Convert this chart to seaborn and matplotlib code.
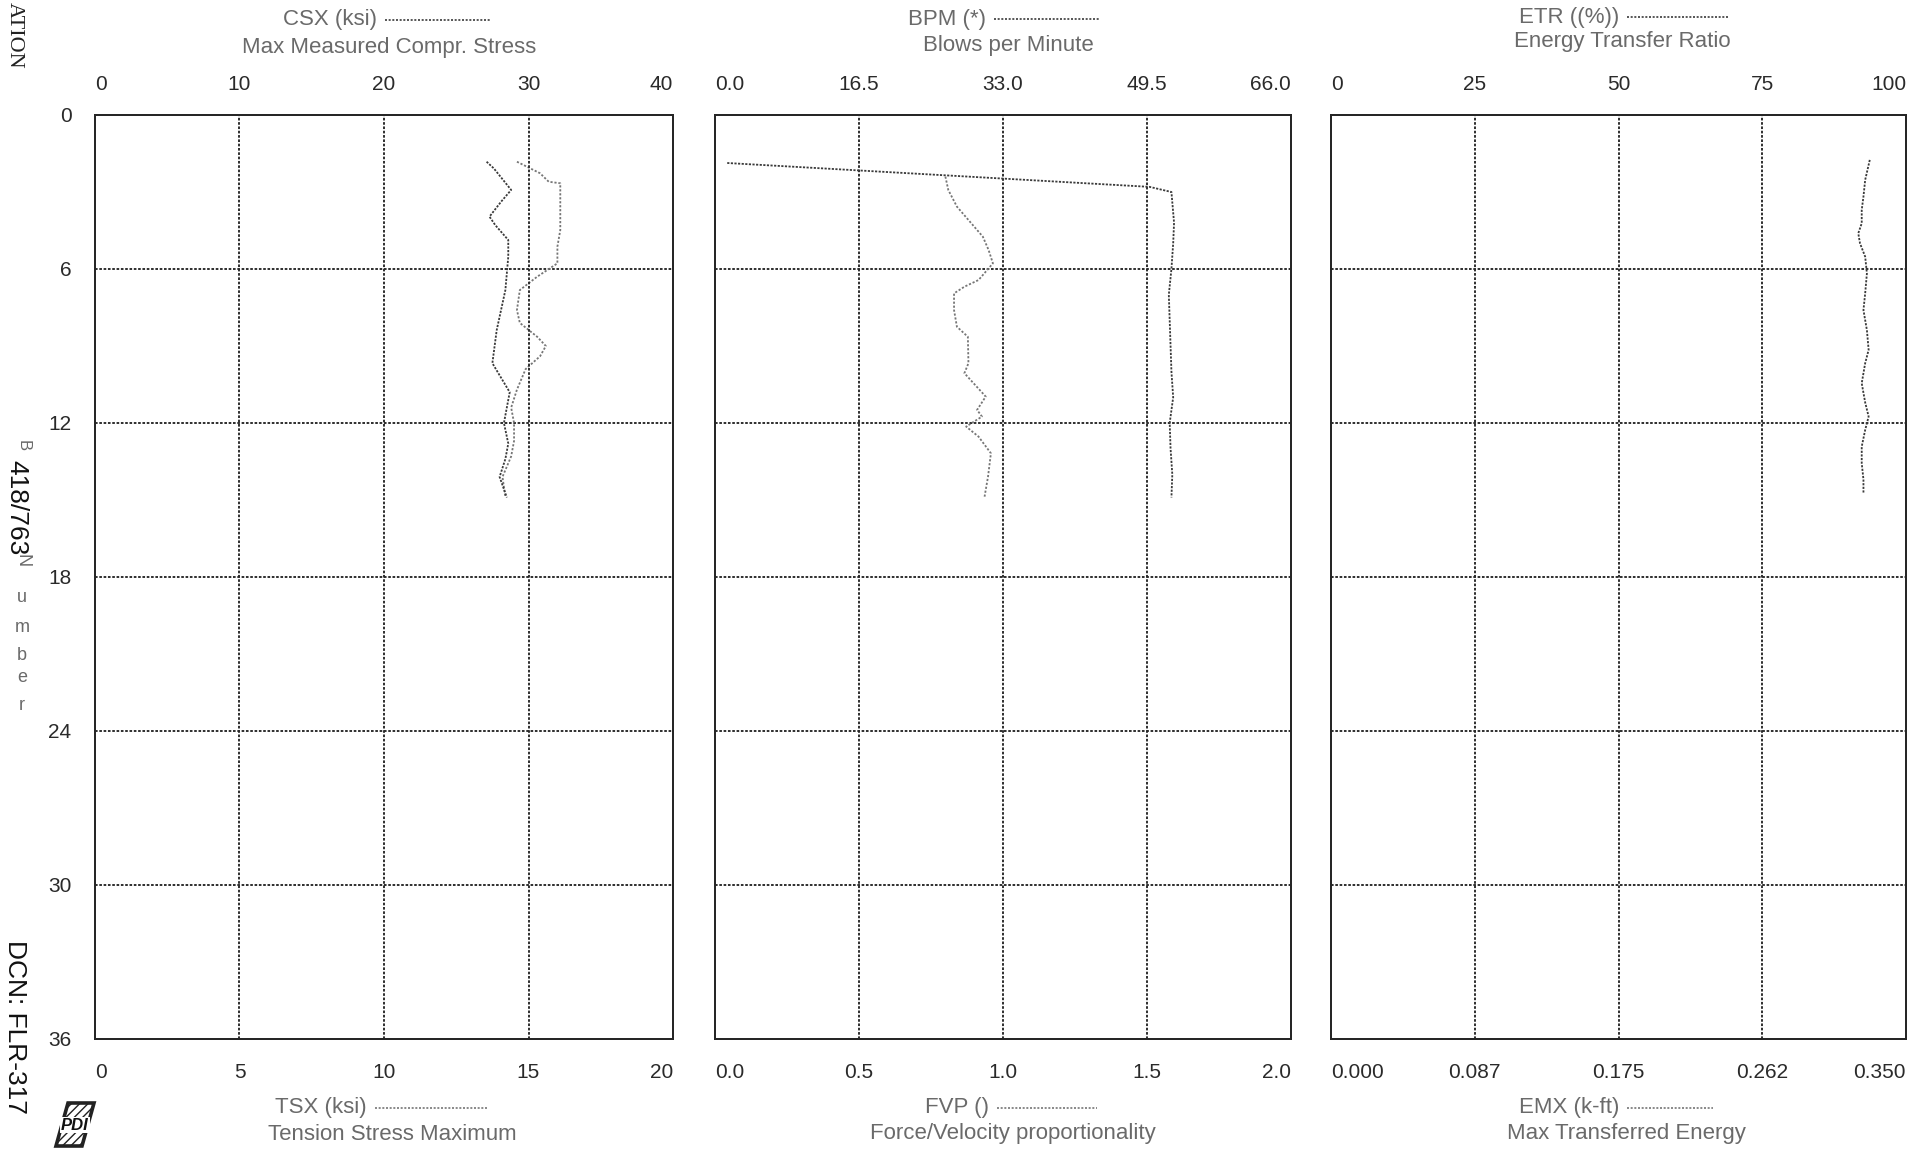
import matplotlib
matplotlib.use("Agg")
import matplotlib.pyplot as plt
import seaborn as sns
from matplotlib.lines import Line2D
from matplotlib.patches import Polygon

sns.set_theme(style="white")
plt.rcParams["font.family"] = ["Liberation Sans", "DejaVu Sans"]

W, H = 1932, 1155

# ---- depth axis (ft) ----
depth_ticks = [0, 6, 12, 18, 24, 30, 36]

# ---- CSX / TSX (ksi) ----
csx_depth = [1.82, 2.08, 2.92, 3.38, 3.96, 4.29, 4.87, 5.52, 6.17, 6.82, 7.6,
             8.38, 9.67, 10.8, 12.0, 12.8, 13.4, 14.1, 14.9]
csx = [27.1, 27.6, 28.8, 28.1, 27.3, 27.7, 28.6, 28.6, 28.5, 28.4, 28.1,
       27.8, 27.5, 28.7, 28.3, 28.6, 28.4, 28.0, 28.5]
tsx_depth = [1.82, 2.27, 2.6, 2.66, 3.18, 3.83, 4.48, 5.13, 5.78, 6.3, 6.82,
             7.6, 8.1, 8.64, 9.0, 9.4, 9.9, 10.7, 11.4, 12.0, 12.7, 13.3,
             14.1, 14.9]
tsx = [14.6, 15.4, 15.7, 16.1, 16.1, 16.1, 16.1, 16.0, 16.0, 15.3, 14.7,
       14.6, 14.7, 15.3, 15.6, 15.4, 14.9, 14.6, 14.4, 14.5, 14.5, 14.4,
       14.1, 14.2]

# ---- BPM / FVP ----
bpm_depth = [1.87, 2.8, 3.0, 4.2, 5.0, 6.0, 7.0, 8.0, 9.0, 10.0, 11.0, 12.0,
             13.0, 14.0, 14.9]
bpm = [1.4, 49.8, 52.3, 52.6, 52.5, 52.3, 52.0, 52.1, 52.2, 52.3, 52.5, 52.1,
       52.2, 52.4, 52.3]
fvp_depth = [2.40, 2.92, 3.57, 4.09, 4.74, 5.26, 5.78, 6.43, 6.69, 6.95, 7.6,
             8.25, 8.64, 9.67, 10.06, 10.97, 11.49, 11.75, 12.14, 12.53,
             13.18, 14.09, 14.87]
fvp = [0.80, 0.81, 0.84, 0.88, 0.93, 0.95, 0.965, 0.915, 0.866, 0.83, 0.83,
       0.84, 0.878, 0.88, 0.866, 0.94, 0.91, 0.927, 0.872, 0.915, 0.958,
       0.948, 0.936]

# ---- ETR (%) / EMX (k-ft) ----
etr_depth = [1.75, 2.53, 3.18, 3.7, 4.22, 4.61, 5.0, 5.52, 6.17, 6.95, 7.6,
             8.38, 9.15, 9.67, 10.45, 11.2, 11.75, 12.27, 12.92, 13.57, 14.2,
             14.74]
etr = [93.7, 92.9, 92.6, 92.3, 92.3, 91.7, 92.0, 92.9, 93.2, 92.9, 92.6,
       93.2, 93.5, 92.9, 92.3, 92.9, 93.5, 92.9, 92.3, 92.3, 92.6, 92.6]

# ---- axis scales and labels ----
top_names = ["CSX (ksi)", "BPM (*)", "ETR ((%))"]
top_descs = ["Max Measured Compr. Stress", "Blows per Minute", "Energy Transfer Ratio"]
top_ticks = [[0, 10, 20, 30, 40], [0, 16.5, 33, 49.5, 66], [0, 25, 50, 75, 100]]
top_ticklabels = [["0", "10", "20", "30", "40"],
                  ["0.0", "16.5", "33.0", "49.5", "66.0"],
                  ["0", "25", "50", "75", "100"]]
bottom_names = ["TSX (ksi)", "FVP ()", "EMX (k-ft)"]
bottom_descs = ["Tension Stress Maximum", "Force/Velocity proportionality",
                "Max Transferred Energy"]
bottom_ticks = [[0, 5, 10, 15, 20], [0, 0.5, 1.0, 1.5, 2.0],
                [0, 0.0875, 0.175, 0.2625, 0.35]]
bottom_ticklabels = [["0", "5", "10", "15", "20"],
                     ["0.0", "0.5", "1.0", "1.5", "2.0"],
                     ["0.000", "0.087", "0.175", "0.262", "0.350"]]

top_series = [(csx, csx_depth), (bpm, bpm_depth), (etr, etr_depth)]
bottom_series = [(tsx, tsx_depth), (fvp, fvp_depth), None]

# panel frames in pixels: left, right
frames = [(95, 673), (715, 1291), (1331, 1906)]
y_top, y_bot = 115, 1039

# title placement (pixels): legend line x0-x1, name/line y, desc centre x, desc y
top_layout = [(385, 490, 20, 389, 47),
              (994, 1099, 19, 1008, 45),
              (1627, 1729, 17, 1622, 42)]
bottom_layout = [(375, 487, 1108, 392, 1134),
                 (997, 1097, 1108, 1013, 1134),
                 (1627, 1713, 1108, 1626, 1134)]

grid_kw = dict(color="#262626", lw=1.35, ls=(0, (1.4, 0.9)))
fig = plt.figure(figsize=(W / 100, H / 100), dpi=100)
fig.patch.set_facecolor("white")


def fx(px):
    return px / W


def fy(py):
    return 1 - py / H


for i, (l, r) in enumerate(frames):
    ax = fig.add_axes([fx(l), fy(y_bot), (r - l) / W, (y_bot - y_top) / H])
    axt = ax.twiny()

    # bottom scale series
    ax.set_xlim(bottom_ticks[i][0], bottom_ticks[i][-1])
    if bottom_series[i] is not None:
        vals, dep = bottom_series[i]
        sns.lineplot(x=vals, y=dep, ax=ax, sort=False, estimator=None,
                     color="#767676", lw=1.3, ls=(0, (1.2, 1.0)))
    # top scale series
    axt.set_xlim(top_ticks[i][0], top_ticks[i][-1])
    vals, dep = top_series[i]
    sns.lineplot(x=vals, y=dep, ax=axt, sort=False, estimator=None,
                 color="#3a3a3a", lw=1.3, ls=(0, (1.2, 0.8)))

    ax.set_ylim(36, 0)
    ax.set_yticks(depth_ticks)
    for d in depth_ticks:
        ax.axhline(d, zorder=0, **grid_kw)
    for t in top_ticks[i]:
        axt.axvline(t, zorder=0, **grid_kw)

    ax.set_xticks(bottom_ticks[i])
    ax.set_xticklabels(bottom_ticklabels[i])
    axt.set_xticks(top_ticks[i])
    axt.set_xticklabels(top_ticklabels[i])
    ax.tick_params(axis="x", length=0, pad=17, labelsize=15, labelcolor="#2a2a2a")
    axt.tick_params(axis="x", length=0, pad=15, labelsize=15, labelcolor="#2a2a2a")
    # end labels stay inside the panel width
    for a in (ax, axt):
        labs = a.get_xticklabels()
        labs[0].set_horizontalalignment("left")
        labs[-1].set_horizontalalignment("right")
    if i == 0:
        ax.set_yticklabels([str(d) for d in depth_ticks])
        ax.tick_params(axis="y", length=0, pad=17, labelsize=15, labelcolor="#2a2a2a")
    else:
        ax.set_yticklabels([])
        ax.tick_params(axis="y", length=0)
    ax.set_xlabel("")
    ax.set_ylabel("")
    axt.set_xlabel("")
    axt.set_ylabel("")
    for a in (ax, axt):
        a.grid(False)
        a.set_facecolor("none")
        for s in a.spines.values():
            s.set_color("#262626")
            s.set_linewidth(1.35)
            s.set_linestyle((0, (1.4, 0.9)))

    # titles with line samples
    for (lx0, lx1, ny, dx, dy), name, desc, col in (
            (top_layout[i], top_names[i], top_descs[i], "#3a3a3a"),
            (bottom_layout[i], bottom_names[i], bottom_descs[i], "#767676")):
        fig.text(fx(lx0 - 8), fy(ny), name, ha="right", va="center",
                 fontsize=16, color="#6a6a6a")
        fig.add_artist(Line2D([fx(lx0), fx(lx1)], [fy(ny), fy(ny)], color=col,
                              lw=1.2, ls=(0, (1.2, 1.0))))
        fig.text(fx(dx), fy(dy), desc, ha="center", va="center", fontsize=16,
                 color="#6a6a6a")

# margin annotations
fig.text(fx(14), fy(2), "ATION", rotation=-90, ha="center", va="top",
         fontsize=16, family=["Liberation Serif", "DejaVu Serif"], color="#222")
fig.text(fx(23), fy(446), "B", rotation=-90, ha="center", va="center",
         fontsize=12, color="#6a6a6a")
fig.text(fx(22), fy(561), "N", rotation=-90, ha="center", va="center",
         fontsize=13, color="#6a6a6a")
for letter, py in zip("umber", [598, 628, 655, 678, 705]):
    fig.text(fx(22), fy(py), letter, ha="center", va="center",
             fontsize=13, color="#6a6a6a")
fig.text(fx(16), fy(460), "418/763", rotation=-90, ha="center", va="top",
         fontsize=19, color="#111")
fig.text(fx(15), fy(940), "DCN: FLR-317", rotation=-90, ha="center", va="top",
         fontsize=19, color="#111")

# logo
logo = Polygon([[fx(56), fy(1146)], [fx(82), fy(1146)], [fx(94), fy(1103)],
                [fx(68), fy(1103)]], closed=True, transform=fig.transFigure,
               facecolor="white", edgecolor="#222", lw=2.6, hatch="////")
fig.add_artist(logo)
fig.text(fx(75), fy(1125), "PDI", ha="center", va="center", fontsize=12,
         fontweight="bold", style="italic", color="#111",
         bbox=dict(facecolor="white", edgecolor="none", pad=0.5))

fig.savefig("out.png", dpi=100, facecolor="white")
